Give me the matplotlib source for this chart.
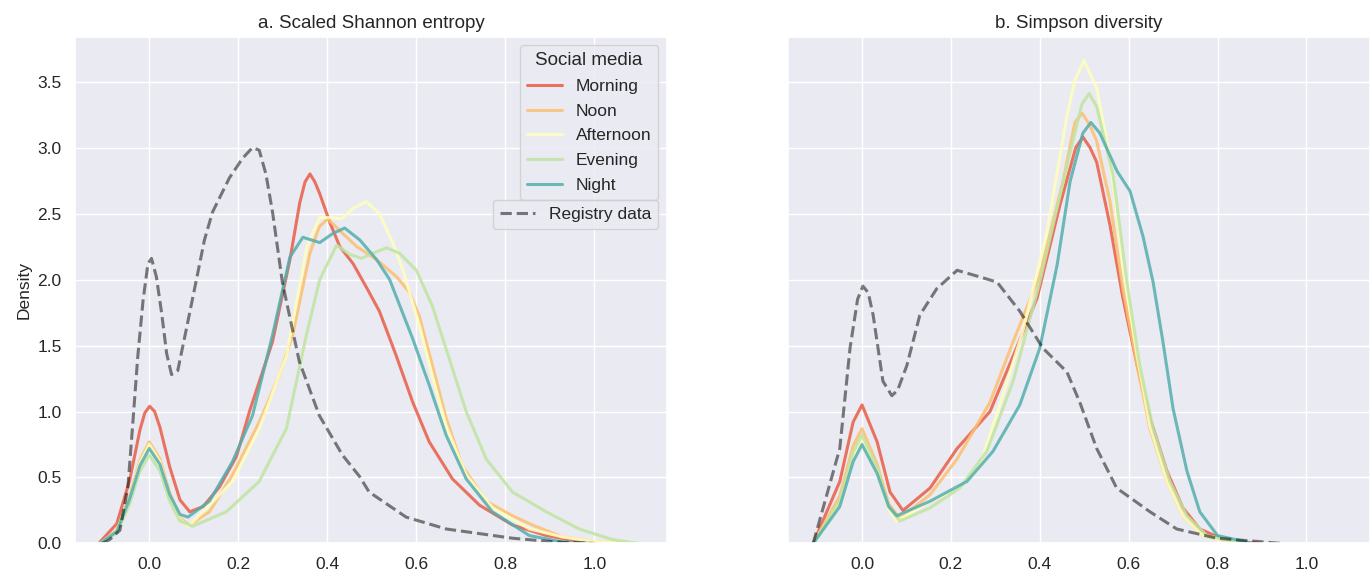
import numpy as np
import matplotlib.pyplot as plt
import seaborn as sns

sns.set_theme(style="darkgrid")
plt.rcParams["font.family"] = ["Liberation Sans", "DejaVu Sans"]

periods = ["Morning", "Noon", "Afternoon", "Evening", "Night"]
colors = sns.color_palette("Spectral", 5)

# a. Scaled Shannon entropy (density curves)
shannon_reg_x = [-0.105, -0.089, -0.066, -0.048, -0.037, -0.026, -0.014, -0.003, 0.005, 0.016,
                 0.028, 0.039, 0.05, 0.064, 0.083, 0.106, 0.124, 0.142, 0.18, 0.21, 0.232,
                 0.247, 0.262, 0.277, 0.299, 0.337, 0.382, 0.434, 0.472, 0.494, 0.577, 0.667,
                 0.816, 0.9, 1.0]
shannon_reg_y = [0.0, 0.03, 0.1, 0.43, 0.91, 1.41, 1.84, 2.12, 2.16, 2.02,
                 1.74, 1.44, 1.28, 1.31, 1.62, 2.0, 2.3, 2.51, 2.77, 2.92, 3.0,
                 2.98, 2.8, 2.51, 1.98, 1.38, 0.97, 0.67, 0.51, 0.39, 0.2, 0.11,
                 0.04, 0.015, 0.0]

shannon_x = {
    "Morning": [-0.111, -0.073, -0.044, -0.021, -0.01, 0.001, 0.012, 0.024, 0.046, 0.069, 0.091,
                0.121, 0.158, 0.196, 0.226, 0.277, 0.316, 0.338, 0.35, 0.361, 0.372, 0.383,
                0.406, 0.428, 0.458, 0.488, 0.517, 0.554, 0.592, 0.629, 0.681, 0.742, 0.816,
                0.892, 0.96, 1.03],
    "Noon": [-0.111, -0.073, -0.044, -0.021, 0.0, 0.024, 0.046, 0.069, 0.09, 0.135, 0.187,
             0.247, 0.292, 0.322, 0.361, 0.382, 0.401, 0.428, 0.466, 0.511, 0.556, 0.585,
             0.607, 0.636, 0.667, 0.703, 0.757, 0.816, 0.861, 0.928, 1.0, 1.08],
    "Afternoon": [-0.111, -0.073, -0.044, -0.021, 0.0, 0.024, 0.046, 0.069, 0.088, 0.135,
                  0.187, 0.247, 0.308, 0.335, 0.354, 0.383, 0.406, 0.432, 0.458, 0.488, 0.517,
                  0.547, 0.57, 0.607, 0.636, 0.667, 0.712, 0.771, 0.854, 0.928, 1.0, 1.08],
    "Evening": [-0.111, -0.073, -0.044, -0.021, 0.0, 0.024, 0.046, 0.069, 0.097, 0.173, 0.247,
                0.308, 0.353, 0.383, 0.421, 0.451, 0.477, 0.503, 0.533, 0.562, 0.6, 0.636,
                0.674, 0.712, 0.757, 0.816, 0.892, 0.966, 1.04, 1.1],
    "Night": [-0.111, -0.073, -0.044, -0.021, 0.0, 0.024, 0.046, 0.069, 0.087, 0.135, 0.187,
              0.232, 0.277, 0.316, 0.345, 0.383, 0.413, 0.439, 0.473, 0.511, 0.54, 0.592,
              0.629, 0.667, 0.712, 0.771, 0.854, 0.93, 1.0],
}
shannon_y = {
    "Morning": [0.01, 0.15, 0.48, 0.86, 0.99, 1.04, 1.0, 0.88, 0.58, 0.33, 0.24,
                0.28, 0.43, 0.66, 1.01, 1.53, 2.15, 2.58, 2.74, 2.8, 2.74, 2.65,
                2.43, 2.25, 2.12, 1.94, 1.76, 1.43, 1.07, 0.77, 0.49, 0.29, 0.14,
                0.06, 0.02, 0.0],
    "Noon": [0.0, 0.1, 0.36, 0.63, 0.77, 0.64, 0.38, 0.19, 0.14, 0.24, 0.52,
             0.92, 1.27, 1.58, 2.2, 2.4, 2.46, 2.37, 2.25, 2.15, 2.02, 1.9,
             1.72, 1.35, 0.95, 0.59, 0.32, 0.21, 0.14, 0.05, 0.015, 0.0],
    "Afternoon": [0.0, 0.09, 0.34, 0.61, 0.75, 0.62, 0.36, 0.18, 0.13, 0.29,
                  0.47, 0.87, 1.42, 1.9, 2.25, 2.47, 2.47, 2.46, 2.54, 2.59, 2.5,
                  2.28, 2.07, 1.65, 1.27, 0.89, 0.52, 0.27, 0.11, 0.05, 0.015, 0.0],
    "Evening": [0.0, 0.08, 0.3, 0.55, 0.67, 0.55, 0.32, 0.17, 0.13, 0.24, 0.47,
                0.87, 1.58, 2.0, 2.26, 2.19, 2.16, 2.2, 2.24, 2.2, 2.07, 1.8,
                1.4, 1.0, 0.64, 0.39, 0.24, 0.11, 0.03, 0.0],
    "Night": [0.0, 0.09, 0.34, 0.59, 0.72, 0.6, 0.37, 0.22, 0.2, 0.32, 0.62,
              0.97, 1.58, 2.17, 2.32, 2.28, 2.35, 2.39, 2.3, 2.15, 2.0, 1.55,
              1.2, 0.82, 0.49, 0.24, 0.06, 0.01, 0.0],
}

# b. Simpson diversity
simpson_reg_x = [-0.11, -0.05, -0.027, -0.01, 0.002, 0.014, 0.025, 0.047, 0.067, 0.08, 0.101,
                 0.13, 0.168, 0.214, 0.265, 0.304, 0.355, 0.407, 0.461, 0.49, 0.528, 0.573,
                 0.648, 0.708, 0.798, 0.947]
simpson_reg_y = [0.0, 0.72, 1.48, 1.85, 1.95, 1.9, 1.73, 1.23, 1.12, 1.16, 1.35,
                 1.73, 1.93, 2.07, 2.02, 1.98, 1.76, 1.48, 1.3, 1.07, 0.72, 0.42,
                 0.24, 0.11, 0.04, 0.0]

simpson_x = {
    "Morning": [-0.11, -0.05, -0.02, 0.0, 0.034, 0.063, 0.092, 0.153, 0.214, 0.288, 0.34,
                0.394, 0.445, 0.481, 0.497, 0.513, 0.528, 0.558, 0.587, 0.619, 0.648, 0.686,
                0.722, 0.76, 0.82, 0.9],
    "Noon": [-0.11, -0.05, -0.02, 0.0, 0.034, 0.06, 0.085, 0.153, 0.214, 0.288, 0.34, 0.4,
             0.452, 0.479, 0.495, 0.511, 0.528, 0.558, 0.587, 0.619, 0.648, 0.686, 0.722,
             0.767, 0.85],
    "Afternoon": [-0.11, -0.05, -0.02, 0.0, 0.034, 0.06, 0.078, 0.153, 0.22, 0.265, 0.31,
                  0.362, 0.416, 0.461, 0.479, 0.499, 0.52, 0.528, 0.558, 0.587, 0.619, 0.648,
                  0.686, 0.722, 0.767, 0.85],
    "Evening": [-0.11, -0.05, -0.02, 0.0, 0.034, 0.06, 0.085, 0.153, 0.22, 0.281, 0.34, 0.4,
                0.461, 0.495, 0.511, 0.528, 0.565, 0.596, 0.625, 0.655, 0.693, 0.731, 0.776,
                0.86],
    "Night": [-0.11, -0.05, -0.02, 0.0, 0.034, 0.06, 0.078, 0.153, 0.236, 0.295, 0.355, 0.4,
              0.439, 0.468, 0.497, 0.515, 0.535, 0.574, 0.603, 0.632, 0.655, 0.677, 0.7,
              0.731, 0.76, 0.8, 0.88],
}
simpson_y = {
    "Morning": [0.0, 0.47, 0.92, 1.05, 0.77, 0.39, 0.25, 0.42, 0.72, 1.0, 1.42,
                1.86, 2.56, 3.0, 3.08, 3.0, 2.89, 2.41, 1.86, 1.35, 0.95, 0.55,
                0.27, 0.11, 0.02, 0.0],
    "Noon": [0.0, 0.36, 0.74, 0.87, 0.6, 0.3, 0.19, 0.37, 0.64, 1.07, 1.53, 2.03,
             2.74, 3.19, 3.26, 3.18, 3.05, 2.59, 1.93, 1.35, 0.87, 0.47, 0.21,
             0.06, 0.0],
    "Afternoon": [0.0, 0.3, 0.66, 0.8, 0.55, 0.26, 0.17, 0.32, 0.42, 0.59, 1.05,
                  1.61, 2.36, 3.24, 3.51, 3.66, 3.51, 3.45, 2.92, 2.11, 1.42, 0.89,
                  0.47, 0.21, 0.06, 0.0],
    "Evening": [0.0, 0.32, 0.69, 0.82, 0.57, 0.28, 0.17, 0.27, 0.42, 0.7, 1.23, 1.98,
                2.86, 3.33, 3.41, 3.31, 2.79, 1.98, 1.35, 0.87, 0.47, 0.21, 0.06,
                0.0],
    "Night": [0.0, 0.28, 0.62, 0.75, 0.53, 0.28, 0.21, 0.32, 0.47, 0.7, 1.05, 1.48,
              2.11, 2.74, 3.11, 3.19, 3.11, 2.82, 2.67, 2.33, 1.98, 1.53, 1.02,
              0.55, 0.24, 0.06, 0.0],
}

fig = plt.figure(figsize=(13.7, 5.75), dpi=100)
ax1 = fig.add_axes([0.0547, 0.0548, 0.4321, 0.8814])
ax2 = fig.add_axes([0.5752, 0.0548, 0.4248, 0.8814], sharey=ax1)
plt.setp(ax2.get_yticklabels(), visible=False)

panels = [
    (ax1, "a. Scaled Shannon entropy", shannon_x, shannon_y, shannon_reg_x, shannon_reg_y, (-0.167, 1.163)),
    (ax2, "b. Simpson diversity", simpson_x, simpson_y, simpson_reg_x, simpson_reg_y, (-0.1665, 1.143)),
]

for ax, title, xs, ys, reg_x, reg_y, xlim in panels:
    for name, c in zip(periods, colors):
        ax.plot(xs[name], ys[name], color=c, lw=2.2, alpha=0.85, label=name,
                solid_joinstyle="round", solid_capstyle="round")
    ax.plot(reg_x, reg_y, color="black", ls="--", lw=2.2, alpha=0.5, label="Registry data",
            dash_joinstyle="round")
    ax.set_title(title, fontsize=13.5)
    ax.set_xlim(*xlim)
    ax.set_ylim(0, 3.84)
    ax.set_xticks([0.0, 0.2, 0.4, 0.6, 0.8, 1.0])
    ax.set_yticks([0.0, 0.5, 1.0, 1.5, 2.0, 2.5, 3.0, 3.5])
    ax.tick_params(labelsize=12.5)

ax1.set_ylabel("Density", fontsize=12.5)

lines = ax1.get_lines()
leg1 = ax1.legend(lines[:5], periods, title="Social media", loc="upper right",
                  fontsize=12.5, title_fontsize=13.5, labelspacing=0.55)
ax1.add_artist(leg1)
ax1.legend([lines[5]], ["Registry data"], loc="upper right",
           bbox_to_anchor=(1.0, 0.695), fontsize=12.5)

plt.savefig("out.png", dpi=100)
